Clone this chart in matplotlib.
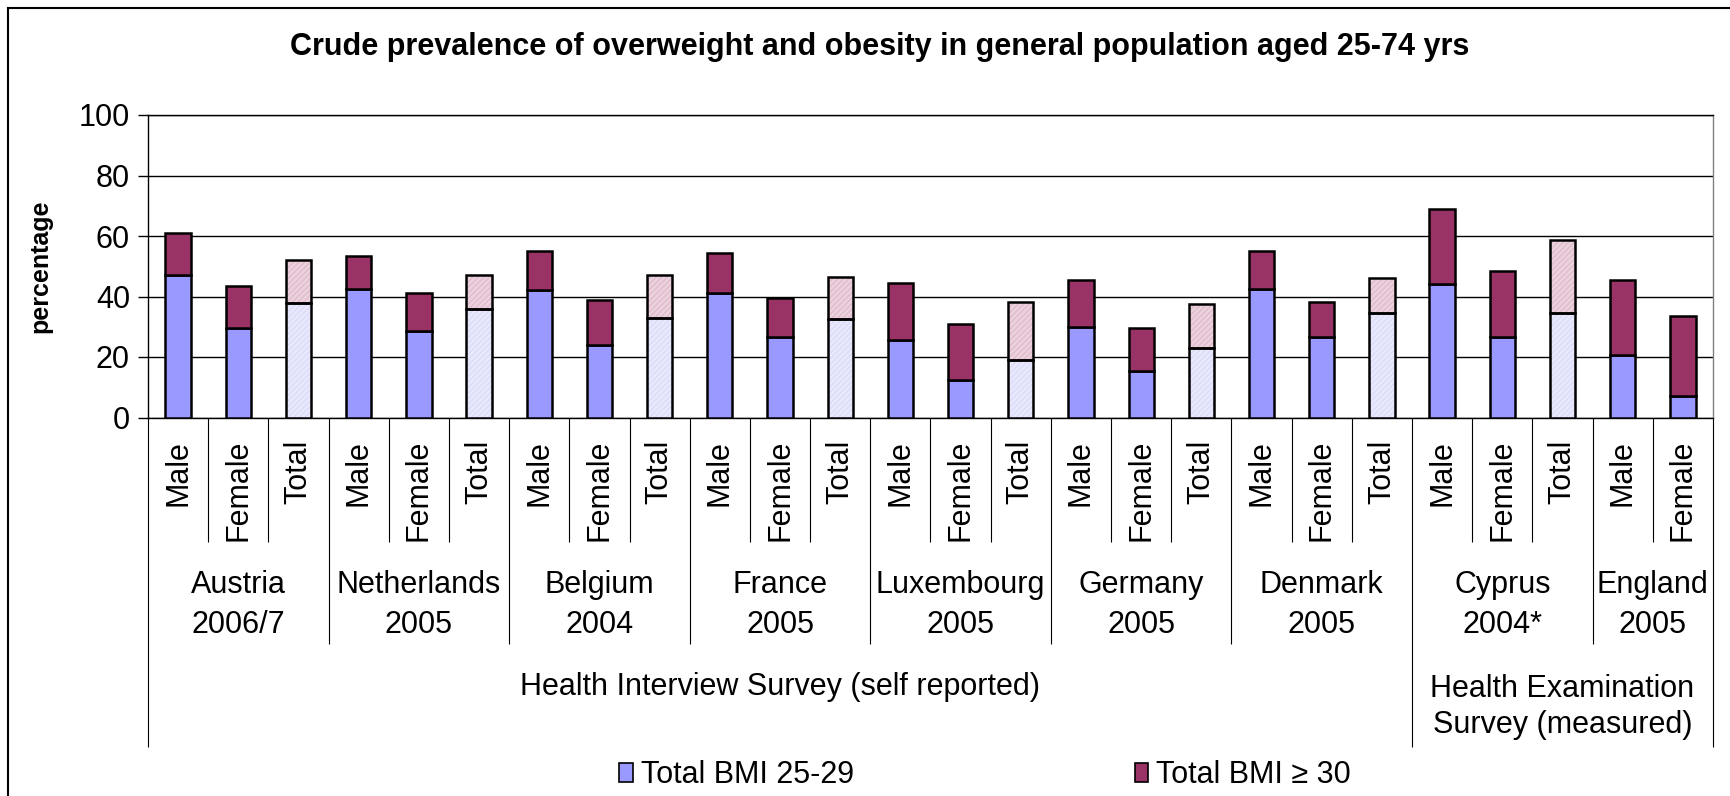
import numpy as np
import matplotlib.pyplot as plt
import matplotlib.transforms as mtransforms
from matplotlib.patches import Patch

plt.rcParams['font.family'] = ['Liberation Sans', 'DejaVu Sans']

countries = ['Austria', 'Netherlands', 'Belgium', 'France', 'Luxembourg',
             'Germany', 'Denmark', 'Cyprus', 'England']
years = ['2006/7', '2005', '2004', '2005', '2005', '2005', '2005', '2004*', '2005']
sexes = [['Male', 'Female', 'Total']] * 8 + [['Male', 'Female']]
surveys = ['Health Interview Survey (self reported)',
           'Health Examination\nSurvey (measured)']
survey_groups = [7, 2]  # number of countries per survey

bmi_25_29 = [47, 29.5, 38, 42.5, 28.5, 36, 42, 24, 33, 41, 26.5, 32.5,
             25.5, 12.5, 19, 30, 15.5, 23, 42.5, 26.5, 34.5, 44, 26.5, 34.5,
             20.5, 7]
bmi_top = [61, 43.5, 52, 53.5, 41, 47, 55, 39, 47, 54.5, 39.5, 46.5,
           44.5, 31, 38.2, 45.5, 29.5, 37.5, 55, 38.3, 46.2, 69, 48.5, 58.7,
           45.5, 33.5]
bmi_30 = [t - b for t, b in zip(bmi_top, bmi_25_29)]

labels = [s for grp in sexes for s in grp]
is_total = np.array([l == 'Total' for l in labels])
x = np.arange(len(labels))

W, H = 1731, 796
fig = plt.figure(figsize=(W / 100, H / 100), dpi=100)
ax = fig.add_axes([148 / W, 1 - 417.5 / H, (1713 - 148) / W, (417.5 - 115) / H])

blue, plum = '#9999ff', '#993366'
lt_blue, lt_plum = '#e8e8ff', '#ecd2de'
bw = 0.42
b25 = np.array(bmi_25_29)
b30 = np.array(bmi_30)
m = ~is_total
ax.bar(x[m], b25[m], bw, color=blue, edgecolor='black', lw=1.8, zorder=3)
ax.bar(x[m], b30[m], bw, bottom=b25[m], color=plum, edgecolor='black', lw=1.8, zorder=3)
# total bars: light pattern fills
ax.bar(x[is_total], b25[is_total], bw, color=lt_blue, edgecolor='#dcdcf4', hatch='//////',
       lw=0, zorder=3)
ax.bar(x[is_total], b30[is_total], bw, bottom=b25[is_total], color=lt_plum,
       edgecolor='#dfbccb', hatch='//////', lw=0, zorder=3)
ax.bar(x[is_total], b25[is_total], bw, fill=False, edgecolor='black', lw=1.8, zorder=4)
ax.bar(x[is_total], b30[is_total], bw, bottom=b25[is_total], fill=False,
       edgecolor='black', lw=1.8, zorder=4)

ax.set_xlim(-0.5, len(labels) - 0.5)
ax.set_ylim(0, 100)
ax.set_yticks(range(0, 101, 20))
ax.tick_params(axis='y', labelsize=22, length=7, width=1, pad=6)
ax.set_xticks([])
ax.grid(axis='y', color='black', lw=1, zorder=0)
for s in ax.spines.values():
    s.set_color('black')
    s.set_linewidth(1)
ax.spines['right'].set_color('#808080')
ax.set_ylabel('percentage', fontsize=18, fontweight='bold', labelpad=19)

# multi-level category axis
trans = mtransforms.blended_transform_factory(ax.transData, fig.transFigure)
def fy(p):
    return 1 - p / H

for xi, lab in zip(x, labels):
    ax.text(xi, fy(440), lab, rotation=90, ha='center', va='top', fontsize=22,
            transform=trans)

# separators
pos = 0
inner, outer = [], []
for grp in sexes:
    for k in range(1, len(grp)):
        inner.append(pos + k - 0.5)
    pos += len(grp)
    outer.append(pos - 0.5)
ax.vlines(inner, fy(417.5), fy(542), color='black', lw=0.8, transform=trans, clip_on=False)

starts = np.cumsum([0] + [len(g) for g in sexes])
for i, (c, yr) in enumerate(zip(countries, years)):
    cx = (starts[i] + starts[i + 1] - 1) / 2
    ax.text(cx, fy(585), c, ha='center', va='center', fontsize=22, transform=trans)
    ax.text(cx, fy(625), yr, ha='center', va='center', fontsize=22, transform=trans)

survey_bounds = [-0.5]
ci = 0
for n in survey_groups:
    ci += n
    survey_bounds.append(starts[ci] - 0.5)
group_only = [b for b in outer if b not in survey_bounds]
ax.vlines(group_only, fy(417.5), fy(644), color='black', lw=0.8, transform=trans, clip_on=False)
ax.vlines(survey_bounds, fy(417.5), fy(747), color='black', lw=0.8, transform=trans, clip_on=False)

for i, sv in enumerate(surveys):
    cx = (survey_bounds[i] + survey_bounds[i + 1]) / 2
    nl = sv.count('\n')
    ax.text(cx, fy(687 + nl * 20), sv, ha='center', va='center', fontsize=22,
            linespacing=1.25, transform=trans)

fig.text(880 / W, fy(47), 'Crude prevalence of overweight and obesity in general population aged 25-74 yrs',
         ha='center', va='center', fontsize=22, fontweight='bold')

handles = [Patch(facecolor=blue, edgecolor='black', lw=1.2),
           Patch(facecolor=plum, edgecolor='black', lw=1.2)]
fig.legend(handles, ['Total BMI 25-29', 'Total BMI \u2265 30'], ncol=2, loc='center',
           bbox_to_anchor=(985 / W, fy(775)), frameon=False, fontsize=22,
           handlelength=0.45, handleheight=0.6, handletextpad=0.25, columnspacing=9.2)

# outer chart-area border
fig.add_artist(plt.Line2D([8 / W, 8 / W], [0, fy(8)], color='black', lw=1.5, transform=fig.transFigure))
fig.add_artist(plt.Line2D([8 / W, 1], [fy(8), fy(8)], color='black', lw=1.5, transform=fig.transFigure))

fig.savefig('out.png', dpi=100)
